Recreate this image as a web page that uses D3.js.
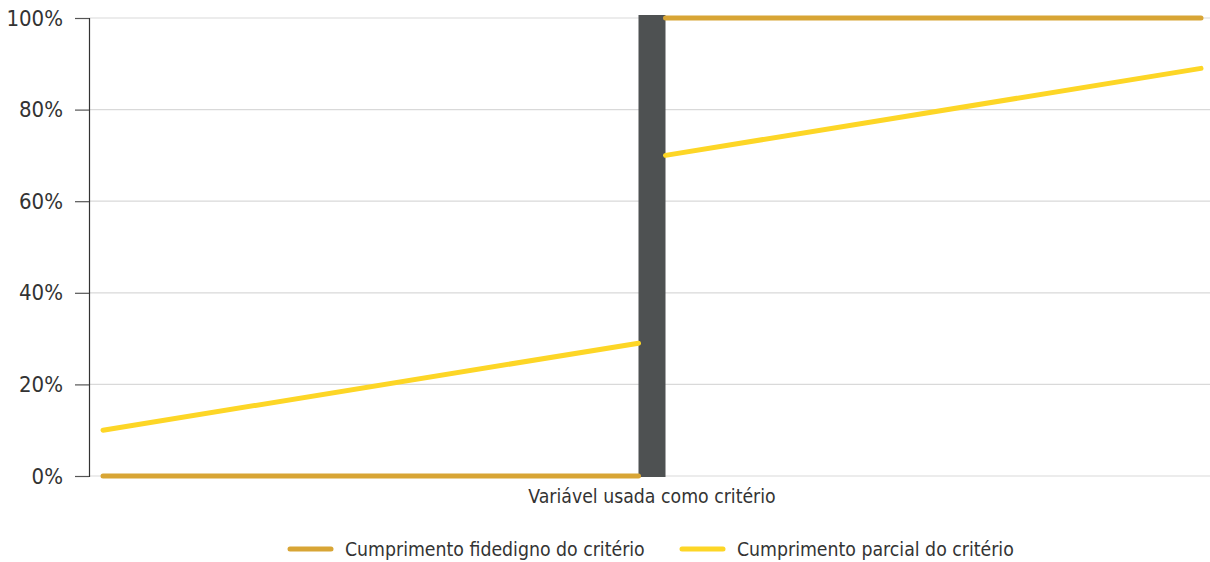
<!DOCTYPE html>
<html>
<head>
<meta charset="utf-8">
<script src="https://cdn.jsdelivr.net/npm/d3@7"></script>
<style>
  body { margin: 0; background: #fff; }
  svg { display: block; font-family: "DejaVu Sans Condensed", "Liberation Sans Narrow", sans-serif; }
</style>
</head>
<body>
<svg id="chart" width="1210" height="562"></svg>
<script>
// ---- data ----
const yTicks = [0, 20, 40, 60, 80, 100];
const threshold = 50;              // position of the criterion cut-off on the x domain
const xDomain = [0, 100];
const seriesNames = ["Cumprimento fidedigno do critério", "Cumprimento parcial do critério"];
const seriesColors = ["#D8A535", "#FDD626"];
// values at [start, end] of the segment below and above the threshold
const fidedignoBelow = [0, 0];
const fidedignoAbove = [100, 100];
const parcialBelow = [10, 29];
const parcialAbove = [70, 89];
const barValue = 100;
const xLabel = "Variável usada como critério";

// ---- layout ----
const svg = d3.select("#chart");
const x = d3.scaleLinear().domain(xDomain).range([103, 1201]);
const y = d3.scaleLinear().domain([0, 100]).range([476, 18]);
const barW = 27;

// gridlines
svg.append("g").selectAll("line").data(yTicks).join("line")
  .attr("x1", 89).attr("x2", 1210)
  .attr("y1", d => y(d)).attr("y2", d => y(d))
  .attr("stroke", "#d9d9d9").attr("stroke-width", 1.2);

// y axis
const yAxis = d3.axisLeft(y).tickValues(yTicks).tickFormat(d => d + "%").tickSize(14).tickPadding(12);
const gy = svg.append("g").attr("transform", "translate(89,0)").call(yAxis);
gy.select(".domain").attr("stroke", "#333").attr("stroke-width", 1.2);
gy.selectAll(".tick line").attr("stroke", "#555").attr("stroke-width", 1.2);
gy.selectAll(".tick text").attr("font-size", 22).attr("fill", "#333")
  .attr("font-family", "'DejaVu Sans Condensed', 'Liberation Sans Narrow', sans-serif");

// bar at threshold
svg.append("rect")
  .attr("x", x(threshold) - barW / 2).attr("width", barW)
  .attr("y", y(barValue) - 3).attr("height", y(0) - y(barValue) + 4)
  .attr("fill", "#4E5152");

// lines
const leftX = [x(xDomain[0]), x(threshold) - barW / 2];
const rightX = [x(threshold) + barW / 2, x(xDomain[1])];
const segs = [
  { xs: leftX, v: fidedignoBelow, c: 0 },
  { xs: rightX, v: fidedignoAbove, c: 0 },
  { xs: leftX, v: parcialBelow, c: 1 },
  { xs: rightX, v: parcialAbove, c: 1 }
];
const line = d3.line().x(d => d[0]).y(d => y(d[1]));
svg.append("g").selectAll("path").data(segs).join("path")
  .attr("d", s => line(s.xs.map((px, i) => [px, s.v[i]])))
  .attr("fill", "none").attr("stroke", s => seriesColors[s.c])
  .attr("stroke-width", 5).attr("stroke-linecap", "round");

// x label
svg.append("text").attr("x", x(threshold)).attr("y", 503)
  .attr("text-anchor", "middle").attr("font-size", 19.3).attr("fill", "#333").text(xLabel);

// legend
const legend = svg.append("g");
const legX = [290, 682];
seriesNames.forEach((n, i) => {
  legend.append("line").attr("x1", legX[i]).attr("x2", legX[i] + 41)
    .attr("y1", 549).attr("y2", 549).attr("stroke", seriesColors[i])
    .attr("stroke-width", 5).attr("stroke-linecap", "round");
  legend.append("text").attr("x", legX[i] + 55).attr("y", 556)
    .attr("font-size", 19.3).attr("fill", "#333").text(n);
});
</script>
</body>
</html>
